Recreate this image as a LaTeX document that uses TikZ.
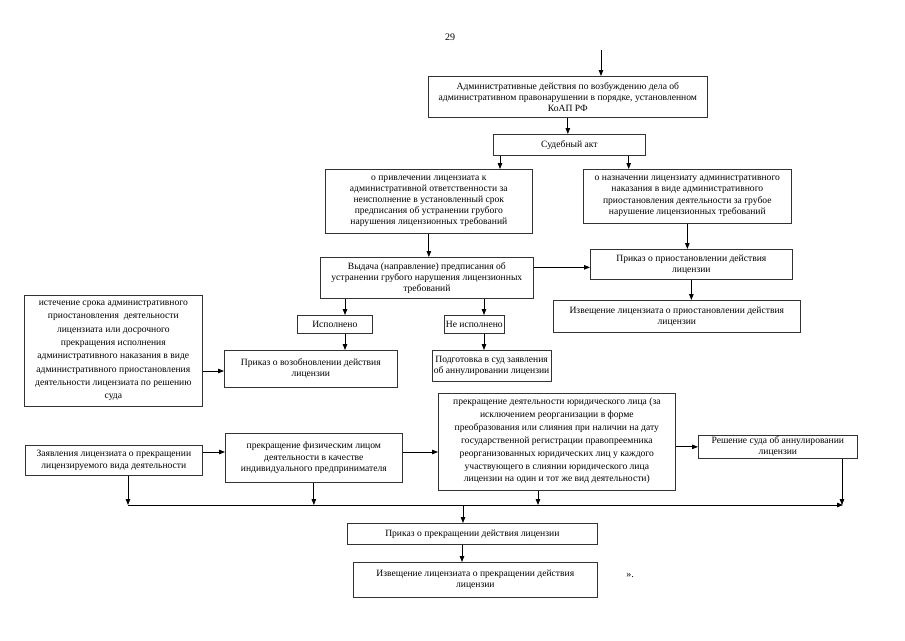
\documentclass[tikz,border=0pt]{standalone}
\usepackage{fontspec}
\setmainfont{Liberation Serif}
\usetikzlibrary{arrows.meta}
\begin{document}
\begin{tikzpicture}[x=1pt,y=-1pt,
  box/.style={draw=black!80, line width=0.7pt, align=center, anchor=north west,
    font=\fontsize{9.6}{11.2}\selectfont, inner sep=1.5pt},
  wide/.style={font=\fontsize{9.6}{12.9}\selectfont},
  wider/.style={font=\fontsize{9.6}{13.3}\selectfont},
  toptext/.style={align=center, anchor=north, inner sep=1.5pt, yshift=-3pt},
  arr/.style={-{Triangle[length=6pt,width=4.5pt]}, line width=0.8pt},
  plain/.style={font=\fontsize{10}{12}\selectfont}]
\useasboundingbox (0,0) rectangle (905,640);

\node[plain] (pg) at (450,37) {29};
\node[plain] (quote) at (630,575) {».};

\node[box, minimum width=279pt, minimum height=41pt] (top) at (428,76)
  {Административные действия по возбуждению дела об\\административном правонарушении в порядке, установленном\\КоАП РФ};
\node[box, minimum width=152pt, minimum height=21pt] (sud) at (493,134) {Судебный акт};
\node[box, minimum width=207pt, minimum height=64pt] (privl) at (325,169)
  {о привлечении лицензиата к\\административной ответственности за\\неисполнение в установленный срок\\предписания об устранении грубого\\нарушения лицензионных требований};
\node[box, minimum width=208pt, minimum height=54pt] (nazn) at (583,169)
  {о назначении лицензиату административного\\наказания в виде административного\\приостановления деятельности за грубое\\нарушение лицензионных требований};
\node[box, minimum width=213pt, minimum height=41pt] (vyd) at (320,257)
  {Выдача (направление) предписания об\\устранении грубого нарушения лицензионных\\требований};
\node[box, minimum width=202pt, minimum height=30pt] (prist) at (590,249)
  {Приказ о приостановлении действия\\лицензии};
\node[box, minimum width=247pt, minimum height=32pt] (izvprist) at (553,300)
  {Извещение лицензиата о приостановлении действия\\лицензии};
\node[box, wider, minimum width=178pt, minimum height=111pt] (istech) at (24,295)
  {истечение срока административного\\приостановления\ \ деятельности\\лицензиата или досрочного\\прекращения исполнения\\административного наказания в виде\\административного приостановления\\деятельности лицензиата по решению\\суда};
\node[box, minimum width=75pt, minimum height=18pt] (ispol) at (297,315) {Исполнено};
\node[box, minimum width=57pt, minimum height=18pt] (neispol) at (444,315) {Не исполнено};
\node[box, minimum width=112pt, minimum height=31pt] (podg) at (432,350)
  {Подготовка в суд заявления\\об аннулировании лицензии};
\node[box, minimum width=173pt, minimum height=37pt] (vozob) at (224,350)
  {Приказ о возобновлении действия\\лицензии};
\node[box, minimum width=177pt, minimum height=30pt] (zayav) at (25,445)
  {Заявления лицензиата о прекращении\\лицензируемого вида деятельности};
\node[box, minimum width=177pt, minimum height=49pt] (fiz) at (225,433)
  {прекращение физическим лицом\\деятельности в качестве\\индивидуального предпринимателя};
\node[box, minimum width=237pt, minimum height=97pt,
  label={[box, wide, draw=none, toptext]north:{прекращение деятельности юридического лица (за\\исключением реорганизации в форме\\преобразования или слияния при наличии на дату\\государственной регистрации правопреемника\\реорганизованных юридических лиц у каждого\\участвующего в слиянии юридического лица\\лицензии на один и тот же вид деятельности)}}]
  (yur) at (438,393) {};
\node[box, minimum width=159pt, minimum height=23pt] (resh) at (698,435)
  {Решение суда об аннулировании\\лицензии};
\node[box, minimum width=250pt, minimum height=21pt] (prekr) at (347,523)
  {Приказ о прекращении действия лицензии};
\node[box, minimum width=244pt, minimum height=35pt] (izvprekr) at (353,562)
  {Извещение лицензиата о прекращении действия\\лицензии};

\coordinate (topin) at (601,50);
\coordinate (busL) at (128,505);
\coordinate (busR) at (843,505);

\draw[arr] (topin) -- (topin |- top.north);
\draw[arr] (top.south) -- (top.south |- sud.north);
\draw[arr] ([xshift=7pt]sud.south west) -- ([xshift=7pt]sud.south west |- privl.north);
\draw[arr] ([xshift=-17pt]sud.south east) -- ([xshift=-17pt]sud.south east |- nazn.north);
\draw[arr] (privl.south) -- (privl.south |- vyd.north);
\draw[arr] (nazn.south) -- (nazn.south |- prist.north);
\draw[arr] (prist.south) -- (prist.south |- izvprist.north);
\draw[arr] ([yshift=10.5pt]vyd.east) -- ([yshift=10.5pt]vyd.east -| prist.west);
\draw[arr] (vyd.south -| 345,0) -- (ispol.north -| 345,0);
\draw[arr] (vyd.south -| 484,0) -- (neispol.north -| 484,0);
\draw[arr] (ispol.south -| 345,0) -- (vozob.north -| 345,0);
\draw[arr] (neispol.south -| 484,0) -- (podg.north -| 484,0);
\draw[arr] (istech.east |- 0,371) -- (vozob.west |- 0,371);
\draw[arr] (zayav.east |- 0,452) -- (fiz.west |- 0,452);
\draw[arr] (fiz.east |- 0,452) -- (yur.west |- 0,452);
\draw[arr] (yur.east |- resh.west) -- (resh.west);
\draw[arr] (busL) -- (busR);
\draw[arr] (zayav.south -| busL) -- (busL);
\draw[arr] (fiz.south) -- (fiz.south |- busL);
\draw[arr] (yur.south -| 538,0) -- (busL -| 538,0);
\draw[arr] (resh.south -| 842,0) -- (busL -| 842,0);
\draw[arr] (busL -| 463,0) -- (prekr.north -| 463,0);
\draw[arr] (prekr.south -| 462,0) -- (izvprekr.north -| 462,0);
\end{tikzpicture}
\end{document}
